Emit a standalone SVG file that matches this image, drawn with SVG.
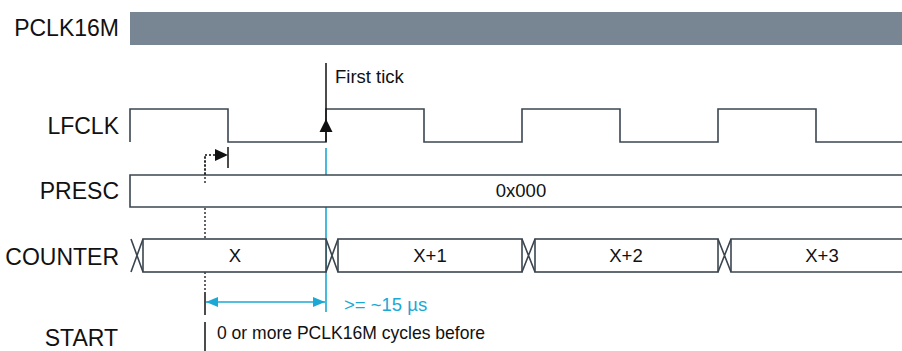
<svg xmlns="http://www.w3.org/2000/svg" width="902" height="351" viewBox="0 0 902 351">
  <style>
    .lbl { font-family: "Liberation Sans", Arial, sans-serif; font-size: 23px; fill: #111; text-anchor: end; }
    .txt { font-family: "Liberation Sans", Arial, sans-serif; font-size: 18.5px; fill: #111; }
    .ctr { text-anchor: middle; }
    .cy { fill: #1ba8d5; }
    .wave { fill: none; stroke: #3b4550; stroke-width: 1.6; }
    .box { fill: #fff; stroke: #3b4550; stroke-width: 1.6; }
    .dot { fill: none; stroke: #111; stroke-width: 1.3; stroke-dasharray: 2 2; }
    .blk { fill: none; stroke: #111; stroke-width: 1.5; }
    .cyl { fill: none; stroke: #1ba8d5; stroke-width: 1.6; }
  </style>
  <defs>
    <marker id="ahCyan" viewBox="0 0 12 10" refX="12" refY="5" markerWidth="12" markerHeight="10" markerUnits="userSpaceOnUse" orient="auto-start-reverse">
      <path d="M0,0 L12,5 L0,10 Z" fill="#1ba8d5"/>
    </marker>
  </defs>

  <!-- guide lines (drawn behind the signal boxes) -->
  <g id="connectors">
    <line class="dot" x1="205" y1="156" x2="205" y2="292"/>
    <line class="cyl" x1="326" y1="148" x2="326" y2="312"/>
  </g>

  <g id="pclk16m">
    <text class="lbl" x="119" y="36">PCLK16M</text>
    <rect x="130" y="12" width="772" height="33" fill="#778692"/>
  </g>

  <g id="lfclk">
    <text class="lbl" x="119" y="134">LFCLK</text>
    <path class="wave" d="M130,142 V109 H228 V142 H326 V109 H424 V142 H522 V109 H620 V142 H718 V109 H816 V142 H903"/>
  </g>

  <g id="presc">
    <text class="lbl" x="119" y="199">PRESC</text>
    <path class="box" d="M903,175 H130 V207 H903"/>
    <text class="txt ctr" x="521" y="197">0x000</text>
  </g>

  <g id="counter">
    <text class="lbl" x="119" y="265">COUNTER</text>
    <path class="wave" d="M131,239 L143,272 M131,272 L143,239"/>
    <rect class="box" x="143" y="239" width="183" height="33"/>
    <path class="wave" d="M326,239 L338,272 M326,272 L338,239"/>
    <rect class="box" x="338" y="239" width="184" height="33"/>
    <path class="wave" d="M522,239 L535,272 M522,272 L535,239"/>
    <rect class="box" x="535" y="239" width="183" height="33"/>
    <path class="wave" d="M718,239 L731,272 M718,272 L731,239"/>
    <path class="box" d="M903,239 H731 V272 H903"/>
    <text class="txt ctr" x="235" y="262">X</text>
    <text class="txt ctr" x="430" y="262">X+1</text>
    <text class="txt ctr" x="626" y="262">X+2</text>
    <text class="txt ctr" x="822" y="262">X+3</text>
  </g>

  <g id="start">
    <text class="lbl" x="118" y="346">START</text>
    <line class="blk" x1="205" y1="322" x2="205" y2="351"/>
    <text class="txt" x="217" y="339" textLength="268" lengthAdjust="spacingAndGlyphs">0 or more PCLK16M cycles before</text>
  </g>

  <g id="annotations">
    <!-- first tick -->
    <line class="blk" x1="326" y1="63" x2="326" y2="142"/>
    <path d="M326,119 L332.5,132 L319.5,132 Z" fill="#111"/>
    <text class="txt" x="335" y="83">First tick</text>
    <!-- dotted delay arrow -->
    <path class="dot" d="M205,183 V155 H216"/>
    <path d="M215,149 L228,155 L215,161 Z" fill="#111"/>
    <line class="blk" x1="228" y1="147" x2="228" y2="168"/>
    <!-- >= 15 us dimension -->
    <line class="blk" x1="205" y1="292" x2="205" y2="315"/>
    <line class="cyl" x1="206" y1="302" x2="325" y2="302" marker-start="url(#ahCyan)" marker-end="url(#ahCyan)"/>
    <text class="txt cy" x="344" y="311">&gt;= ~15 µs</text>
  </g>
</svg>
